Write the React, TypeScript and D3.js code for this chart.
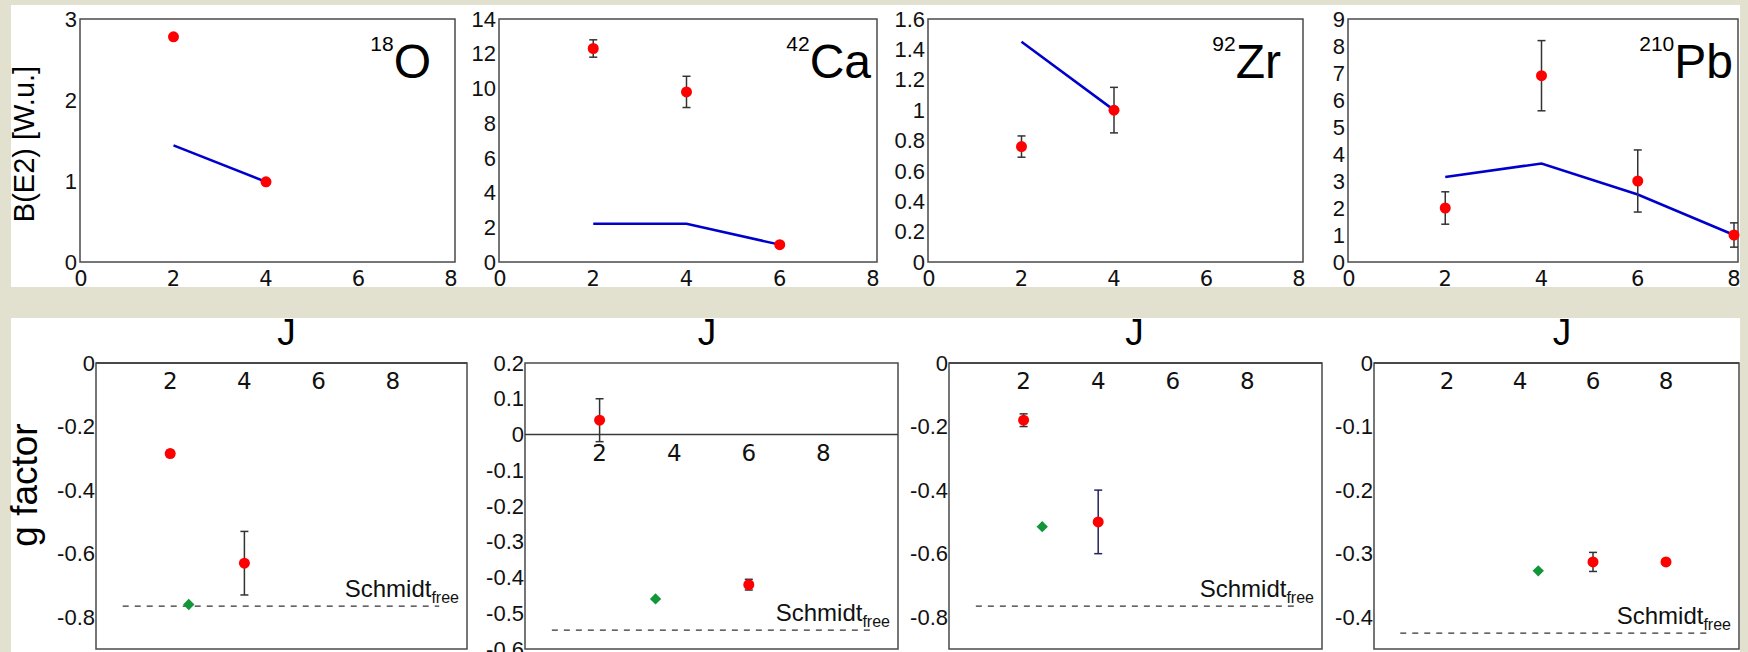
import React, { useEffect, useRef } from 'react'
import * as d3 from 'd3'

// top row: B(E2) in W.u. against J
const massNumbers = ['18', '42', '92', '210']
const symbols = ['O', 'Ca', 'Zr', 'Pb']
const jTicksTop = [0, 2, 4, 6, 8]
const be2Max = [3, 14, 1.6, 9]
const be2Ticks = [
  [0, 1, 2, 3],
  [0, 2, 4, 6, 8, 10, 12, 14],
  [0, 0.2, 0.4, 0.6, 0.8, 1, 1.2, 1.4, 1.6],
  [0, 1, 2, 3, 4, 5, 6, 7, 8, 9]
]
const be2ExpJ = [[2, 4], [2, 4, 6], [2, 4], [2, 4, 6, 8]]
const be2ExpVal = [[2.78, 0.99], [12.3, 9.8, 1.0], [0.76, 1.0], [2.0, 6.9, 3.0, 1.0]]
const be2ExpErr = [[0, 0], [0.5, 0.9, 0], [0.07, 0.15], [0.6, 1.3, 1.15, 0.45]]
const be2TheoJ = [[2, 4], [2, 4, 6], [2, 4], [2, 4, 6, 8]]
const be2TheoVal = [[1.44, 0.99], [2.2, 2.2, 1.0], [1.45, 1.0], [3.15, 3.65, 2.5, 1.0]]

// bottom row: g factor against J
const jTicksBottom = [2, 4, 6, 8]
const gDomain = [[-0.9, 0], [-0.6, 0.2], [-0.9, 0], [-0.45, 0]]
const gTicks = [
  [0, -0.2, -0.4, -0.6, -0.8],
  [0.2, 0.1, 0, -0.1, -0.2, -0.3, -0.4, -0.5, -0.6],
  [0, -0.2, -0.4, -0.6, -0.8],
  [0, -0.1, -0.2, -0.3, -0.4]
]
const gExpJ = [[2, 4], [2, 6], [2, 4], [6, 8]]
const gExpVal = [[-0.285, -0.63], [0.04, -0.42], [-0.18, -0.5], [-0.313, -0.313]]
const gExpErr = [[0.01, 0.1], [0.06, 0.015], [0.02, 0.1], [0.015, 0.005]]
const gTheoJ = [2.5, 3.5, 2.5, 4.5]
const gTheoVal = [-0.76, -0.46, -0.515, -0.327]
const schmidtFree = [-0.765, -0.547, -0.765, -0.425]

// layout
const W = 1748, H = 652
const topBox = [[80, 455], [499, 877], [928, 1303], [1348, 1738]]
const topY = [19, 262]
const botBox = [[96, 467], [525, 898], [949, 1322], [1374, 1739]]
const botY = [363, 649]
const nameEnd = [431, 871, 1281, 1733]
const errColorBot = [['#333', '#333'], ['#333', '#333'], ['#333', '#23235e'], ['#333', '#333']]

const sans = 'Liberation Sans, Arial, sans-serif'
const dejavu = 'DejaVu Sans, sans-serif'
const RED = '#ff0000', BLUE = '#0000cc', GREEN = '#119638'

export default function App() {
  const ref = useRef<SVGSVGElement>(null)

  useEffect(() => {
    const svg = d3.select(ref.current)
    svg.selectAll('*').remove()

    // backdrop: beige with two white bands
    svg.append('rect').attr('width', W).attr('height', H).attr('fill', '#e2e1cf')
    svg.append('rect').attr('x', 11).attr('y', 5).attr('width', 1729).attr('height', 282).attr('fill', '#fff')
    svg.append('rect').attr('x', 11).attr('y', 318).attr('width', 1729).attr('height', 334).attr('fill', '#fff')

    const errBar = (g: any, x: number, y0: number, y1: number, color: string) => {
      g.append('line').attr('x1', x).attr('x2', x).attr('y1', y0).attr('y2', y1)
        .attr('stroke', color).attr('stroke-width', 1.5)
      ;[y0, y1].forEach(yy => g.append('line').attr('x1', x - 4).attr('x2', x + 4)
        .attr('y1', yy).attr('y2', yy).attr('stroke', color).attr('stroke-width', 1.5))
    }

    // ---- top row ----
    topBox.forEach(([x0, x1], i) => {
      const g = svg.append('g')
      const x = d3.scaleLinear().domain([0, 8]).range([x0 + 1, x1 - 4])
      const y = d3.scaleLinear().domain([0, be2Max[i]]).range([topY[1], topY[0]])

      g.append('rect').attr('x', x0).attr('y', topY[0]).attr('width', x1 - x0).attr('height', topY[1] - topY[0])
        .attr('fill', '#fff').attr('stroke', '#4a4a4a').attr('stroke-width', 1.5)

      g.selectAll('.yt').data(be2Ticks[i]).enter().append('text')
        .attr('x', x0 - 3).attr('y', d => y(d)).attr('dy', '0.35em')
        .attr('text-anchor', 'end').attr('font-family', sans).attr('font-size', 22).attr('fill', '#111')
        .text(d => String(d))

      g.selectAll('.xt').data(jTicksTop).enter().append('text')
        .attr('x', d => x(d)).attr('y', 286)
        .attr('text-anchor', 'middle').attr('font-family', dejavu).attr('font-size', 21).attr('fill', '#111')
        .text(d => String(d))

      // theory line
      const line = d3.line<number>().x((d, k) => x(be2TheoJ[i][k])).y(d => y(d))
      g.append('path').attr('d', line(be2TheoVal[i])).attr('fill', 'none')
        .attr('stroke', BLUE).attr('stroke-width', 2.5)

      be2ExpVal[i].forEach((v, k) => {
        const e = be2ExpErr[i][k]
        if (e > 0) errBar(g, x(be2ExpJ[i][k]), y(v + e), y(v - e), '#333')
      })
      g.selectAll('.pt').data(be2ExpVal[i]).enter().append('circle')
        .attr('cx', (d, k) => x(be2ExpJ[i][k])).attr('cy', d => y(d)).attr('r', 5.5).attr('fill', RED)

      // nucleus name
      const t = g.append('text').attr('x', nameEnd[i]).attr('y', 78).attr('text-anchor', 'end')
        .attr('font-family', sans).attr('fill', '#000')
      t.append('tspan').attr('font-size', 21).attr('dy', -27).text(massNumbers[i])
      t.append('tspan').attr('font-size', 48).attr('dy', 27).text(symbols[i])

      // J under the row
      svg.append('text').attr('x', (x0 + x1) / 2 + 19).attr('y', 345).attr('text-anchor', 'middle')
        .attr('font-family', sans).attr('font-size', 37).attr('fill', '#000').text('J')
    })

    // ---- bottom row ----
    botBox.forEach(([x0, x1], i) => {
      const g = svg.append('g')
      const x = d3.scaleLinear().domain([0, 10]).range([x0, x1])
      const y = d3.scaleLinear().domain(gDomain[i]).range([botY[1], botY[0]])

      g.append('rect').attr('x', x0).attr('y', botY[0]).attr('width', x1 - x0).attr('height', botY[1] - botY[0])
        .attr('fill', '#fff').attr('stroke', '#4a4a4a').attr('stroke-width', 1.5)

      // J axis sits on g = 0
      g.append('line').attr('x1', x0).attr('x2', x1).attr('y1', y(0)).attr('y2', y(0))
        .attr('stroke', '#3a3a3a').attr('stroke-width', 1.5)

      g.selectAll('.yt').data(gTicks[i]).enter().append('text')
        .attr('x', x0 - 1).attr('y', d => y(d)).attr('dy', '0.35em')
        .attr('text-anchor', 'end').attr('font-family', sans).attr('font-size', 22).attr('fill', '#111')
        .text(d => String(d))

      g.selectAll('.xt').data(jTicksBottom).enter().append('text')
        .attr('x', d => x(d)).attr('y', y(0) + 26)
        .attr('text-anchor', 'middle').attr('font-family', dejavu).attr('font-size', 23).attr('fill', '#111')
        .text(d => String(d))

      // Schmidt free line
      const ys = y(schmidtFree[i])
      g.append('line').attr('x1', x(0.72)).attr('x2', x(9.25)).attr('y1', ys).attr('y2', ys)
        .attr('stroke', '#333').attr('stroke-width', 1.2).attr('stroke-dasharray', '6,6')
      const s = g.append('text').attr('x', x1 - 8).attr('y', ys - 9).attr('text-anchor', 'end')
        .attr('font-family', sans).attr('fill', '#111')
      s.append('tspan').attr('font-size', 24).text('Schmidt')
      s.append('tspan').attr('font-size', 16).attr('dy', 6).text('free')

      gExpVal[i].forEach((v, k) => {
        errBar(g, x(gExpJ[i][k]), y(v + gExpErr[i][k]), y(v - gExpErr[i][k]), errColorBot[i][k])
      })
      g.selectAll('.pt').data(gExpVal[i]).enter().append('circle')
        .attr('cx', (d, k) => x(gExpJ[i][k])).attr('cy', d => y(d)).attr('r', 5.5).attr('fill', RED)

      g.append('path').attr('d', d3.symbol(d3.symbolSquare, 64)())
        .attr('transform', `translate(${x(gTheoJ[i])},${y(gTheoVal[i])}) rotate(45)`)
        .attr('fill', GREEN)
    })

    // axis titles
    svg.append('text').attr('transform', 'translate(34,144) rotate(-90)').attr('text-anchor', 'middle')
      .attr('font-family', sans).attr('font-size', 29).attr('fill', '#000').text('B(E2) [W.u.]')
    svg.append('text').attr('transform', 'translate(37,485) rotate(-90)').attr('text-anchor', 'middle')
      .attr('font-family', sans).attr('font-size', 37).attr('fill', '#000').text('g factor')
  }, [])

  return (
    <svg ref={ref} width={W} height={H}
      style={{ position: 'absolute', left: 0, top: 0, display: 'block' }} />
  )
}
